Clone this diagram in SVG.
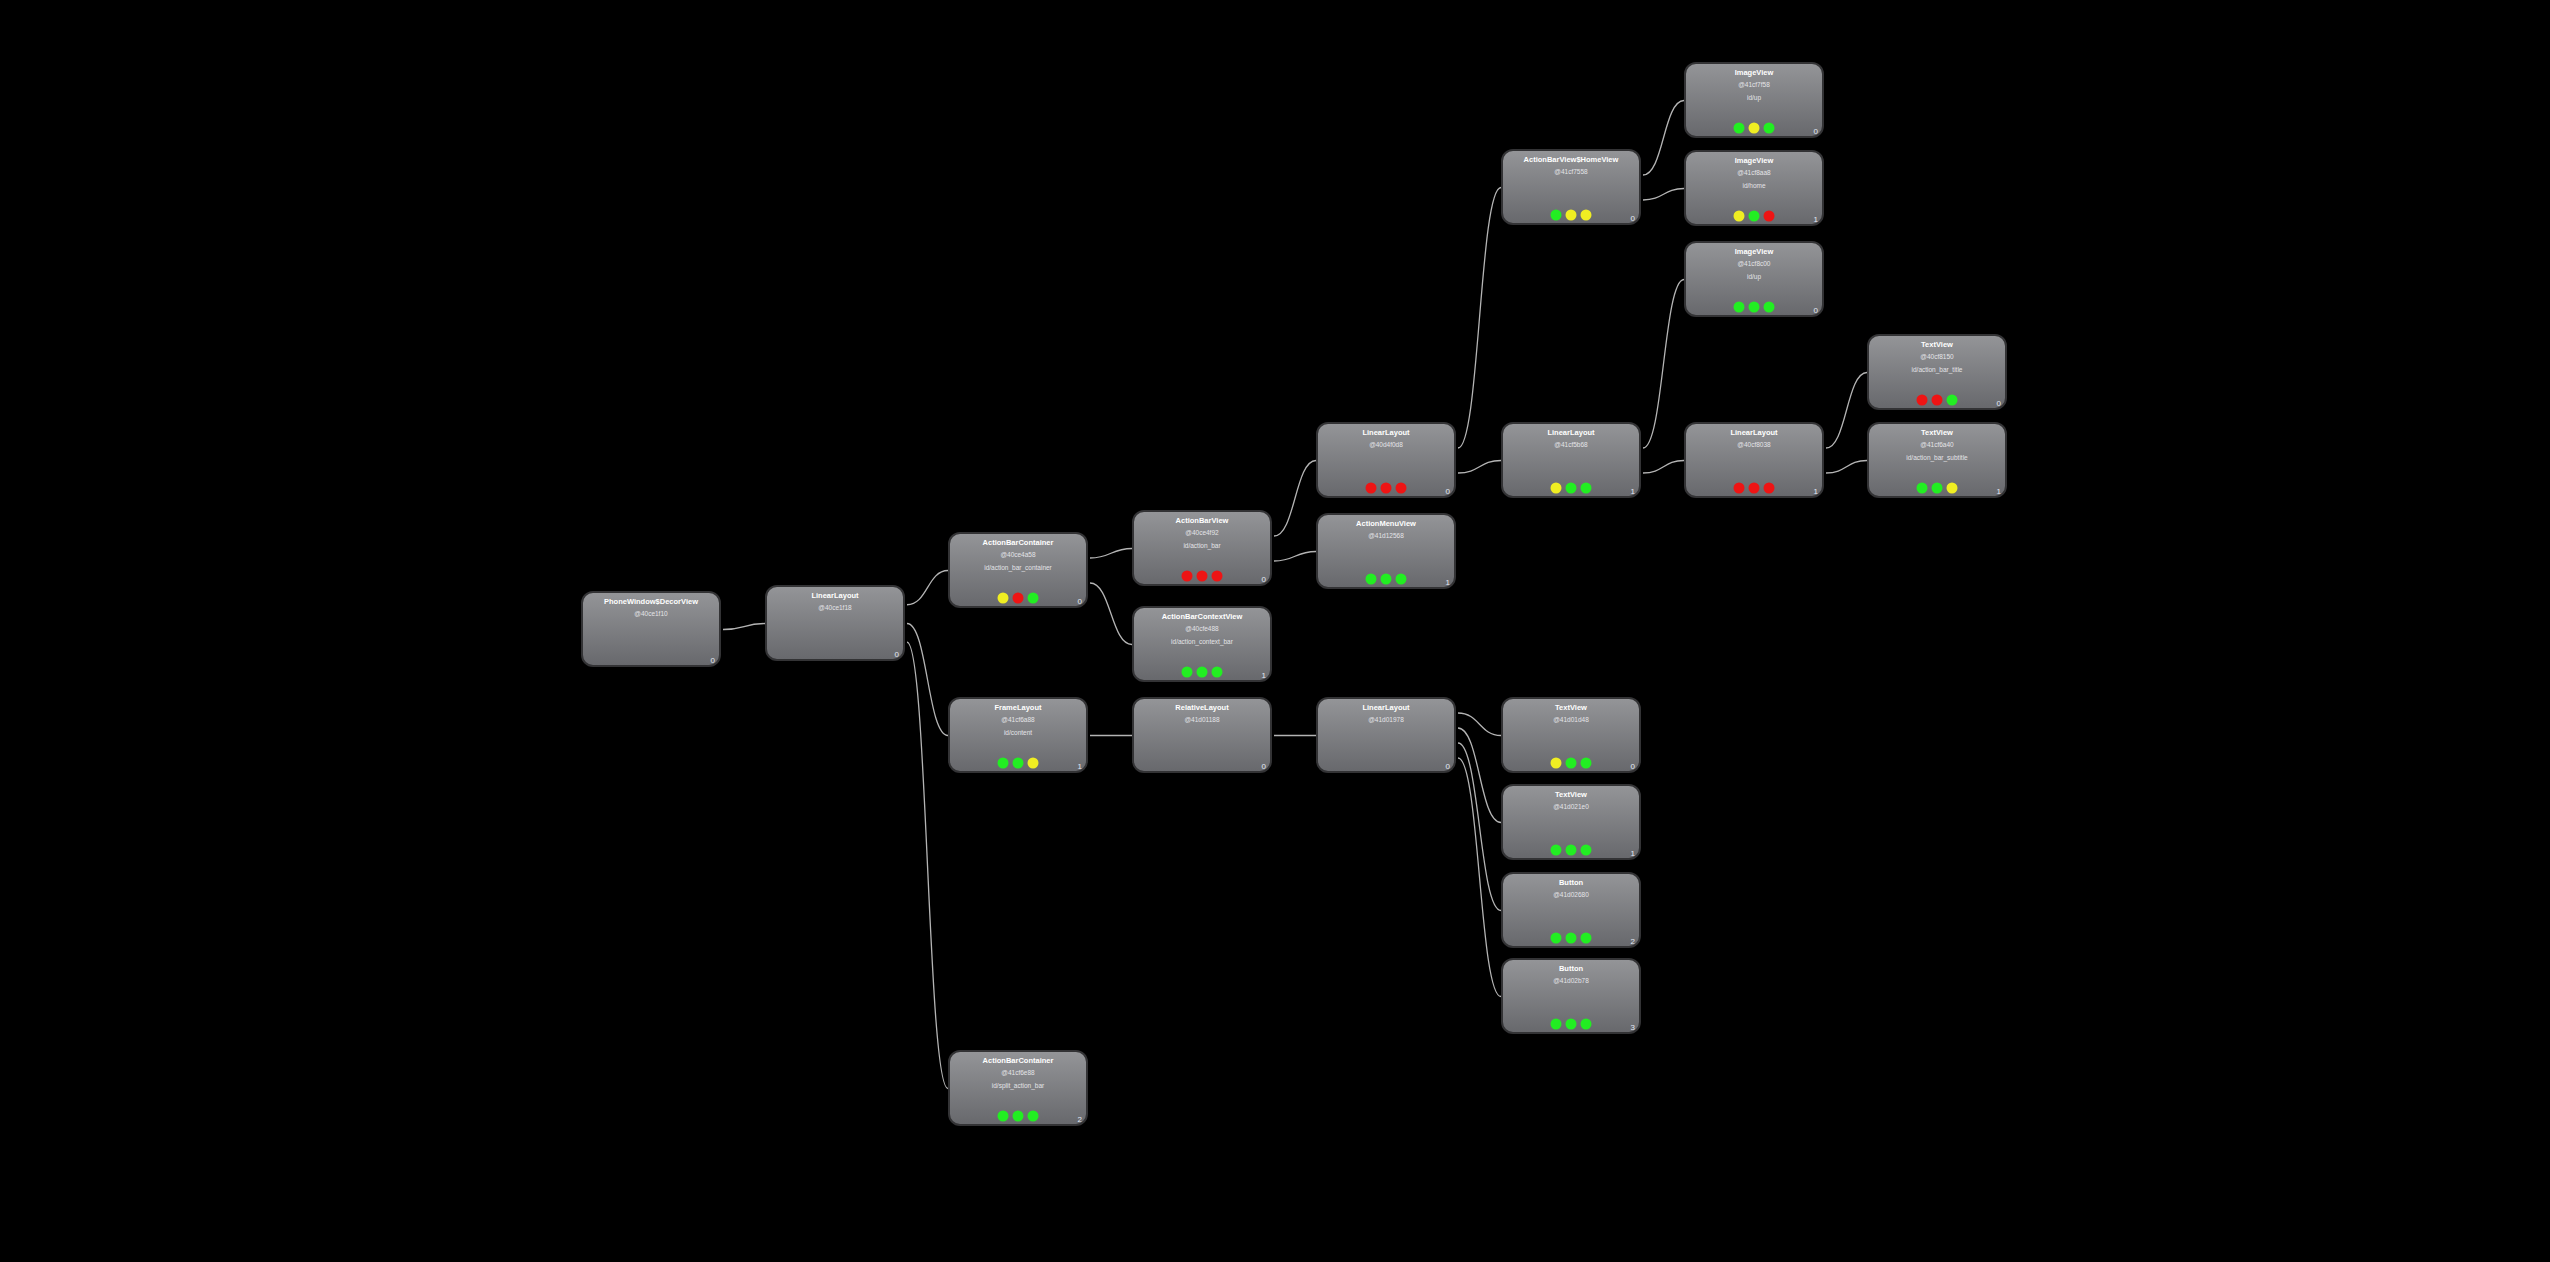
<svg xmlns="http://www.w3.org/2000/svg" width="2550" height="1262" viewBox="0 0 2550 1262">
<style>
.box{fill:url(#g);stroke:#333335;stroke-width:2}
.t{font-family:"Liberation Sans",Arial,sans-serif;font-size:7.5px;font-weight:bold;fill:#ffffff;text-anchor:middle}
.s{font-family:"Liberation Sans",Arial,sans-serif;font-size:6.5px;fill:#e4e4e8;text-anchor:middle}
.i{font-family:"Liberation Sans",Arial,sans-serif;font-size:8px;fill:#e2e8f4;text-anchor:end}
.G{fill:#22ee22}.R{fill:#ee1414}.Y{fill:#f0ee22}
.e{fill:none;stroke:#b4b4b4;stroke-width:1.3}
</style>
<defs>
<linearGradient id="g" x1="0" y1="0" x2="0" y2="1">
<stop offset="0" stop-color="#949598"/>
<stop offset="1" stop-color="#67686c"/>
</linearGradient>
</defs>
<rect width="2550" height="1262" fill="#000"/>
<g id="connectors">
<path class="e" d="M723,629.5 C744,629.5 744,623.5 765,623.5"/>
<path class="e" d="M907,604.75 C927.5,604.75 927.5,570.5 948,570.5"/>
<path class="e" d="M907,623.5 C927.5,623.5 927.5,735.5 948,735.5"/>
<path class="e" d="M907,642.25 C927.5,642.25 927.5,1088.5 948,1088.5"/>
<path class="e" d="M1090,558 C1111,558 1111,548.5 1132,548.5"/>
<path class="e" d="M1090,583 C1111,583 1111,644.5 1132,644.5"/>
<path class="e" d="M1090,735.5 L1132,735.5"/>
<path class="e" d="M1274,536 C1295,536 1295,460.5 1316,460.5"/>
<path class="e" d="M1274,561 C1295,561 1295,551.5 1316,551.5"/>
<path class="e" d="M1274,735.5 L1316,735.5"/>
<path class="e" d="M1458,448 C1479.5,448 1479.5,187.5 1501,187.5"/>
<path class="e" d="M1458,473 C1479.5,473 1479.5,460.5 1501,460.5"/>
<path class="e" d="M1458,713 C1479.5,713 1479.5,735.5 1501,735.5"/>
<path class="e" d="M1458,728 C1479.5,728 1479.5,822.5 1501,822.5"/>
<path class="e" d="M1458,743 C1479.5,743 1479.5,910.5 1501,910.5"/>
<path class="e" d="M1458,758 C1479.5,758 1479.5,996.5 1501,996.5"/>
<path class="e" d="M1643,175 C1663.5,175 1663.5,100.5 1684,100.5"/>
<path class="e" d="M1643,200 C1663.5,200 1663.5,188.5 1684,188.5"/>
<path class="e" d="M1643,448 C1663.5,448 1663.5,279.5 1684,279.5"/>
<path class="e" d="M1643,473 C1663.5,473 1663.5,460.5 1684,460.5"/>
<path class="e" d="M1826,448 C1846.5,448 1846.5,372.5 1867,372.5"/>
<path class="e" d="M1826,473 C1846.5,473 1846.5,460.5 1867,460.5"/>
</g>
<g id="n0" transform="translate(582,592)"><rect class="box" width="138" height="74" rx="11"/><text class="t" x="69" y="12">PhoneWindow$DecorView</text><text class="s" x="69" y="24">@40ce1f10</text><text class="i" x="133" y="71">0</text></g>
<g id="n1" transform="translate(766,586)"><rect class="box" width="138" height="74" rx="11"/><text class="t" x="69" y="12">LinearLayout</text><text class="s" x="69" y="24">@40ce1f18</text><text class="i" x="133" y="71">0</text></g>
<g id="n2" transform="translate(949,533)"><rect class="box" width="138" height="74" rx="11"/><text class="t" x="69" y="12">ActionBarContainer</text><text class="s" x="69" y="24">@40ce4a58</text><text class="s" x="69" y="37">id/action_bar_container</text><circle class="Y" cx="54" cy="65" r="5.5"/><circle class="R" cx="69" cy="65" r="5.5"/><circle class="G" cx="84" cy="65" r="5.5"/><text class="i" x="133" y="71">0</text></g>
<g id="n3" transform="translate(949,698)"><rect class="box" width="138" height="74" rx="11"/><text class="t" x="69" y="12">FrameLayout</text><text class="s" x="69" y="24">@41cf6a88</text><text class="s" x="69" y="37">id/content</text><circle class="G" cx="54" cy="65" r="5.5"/><circle class="G" cx="69" cy="65" r="5.5"/><circle class="Y" cx="84" cy="65" r="5.5"/><text class="i" x="133" y="71">1</text></g>
<g id="n4" transform="translate(949,1051)"><rect class="box" width="138" height="74" rx="11"/><text class="t" x="69" y="12">ActionBarContainer</text><text class="s" x="69" y="24">@41cf6e88</text><text class="s" x="69" y="37">id/split_action_bar</text><circle class="G" cx="54" cy="65" r="5.5"/><circle class="G" cx="69" cy="65" r="5.5"/><circle class="G" cx="84" cy="65" r="5.5"/><text class="i" x="133" y="71">2</text></g>
<g id="n5" transform="translate(1133,511)"><rect class="box" width="138" height="74" rx="11"/><text class="t" x="69" y="12">ActionBarView</text><text class="s" x="69" y="24">@40ce4f92</text><text class="s" x="69" y="37">id/action_bar</text><circle class="R" cx="54" cy="65" r="5.5"/><circle class="R" cx="69" cy="65" r="5.5"/><circle class="R" cx="84" cy="65" r="5.5"/><text class="i" x="133" y="71">0</text></g>
<g id="n6" transform="translate(1133,607)"><rect class="box" width="138" height="74" rx="11"/><text class="t" x="69" y="12">ActionBarContextView</text><text class="s" x="69" y="24">@40cfe488</text><text class="s" x="69" y="37">id/action_context_bar</text><circle class="G" cx="54" cy="65" r="5.5"/><circle class="G" cx="69" cy="65" r="5.5"/><circle class="G" cx="84" cy="65" r="5.5"/><text class="i" x="133" y="71">1</text></g>
<g id="n7" transform="translate(1133,698)"><rect class="box" width="138" height="74" rx="11"/><text class="t" x="69" y="12">RelativeLayout</text><text class="s" x="69" y="24">@41d01188</text><text class="i" x="133" y="71">0</text></g>
<g id="n8" transform="translate(1317,423)"><rect class="box" width="138" height="74" rx="11"/><text class="t" x="69" y="12">LinearLayout</text><text class="s" x="69" y="24">@40d4f0d8</text><circle class="R" cx="54" cy="65" r="5.5"/><circle class="R" cx="69" cy="65" r="5.5"/><circle class="R" cx="84" cy="65" r="5.5"/><text class="i" x="133" y="71">0</text></g>
<g id="n9" transform="translate(1317,514)"><rect class="box" width="138" height="74" rx="11"/><text class="t" x="69" y="12">ActionMenuView</text><text class="s" x="69" y="24">@41d12568</text><circle class="G" cx="54" cy="65" r="5.5"/><circle class="G" cx="69" cy="65" r="5.5"/><circle class="G" cx="84" cy="65" r="5.5"/><text class="i" x="133" y="71">1</text></g>
<g id="n10" transform="translate(1317,698)"><rect class="box" width="138" height="74" rx="11"/><text class="t" x="69" y="12">LinearLayout</text><text class="s" x="69" y="24">@41d01978</text><text class="i" x="133" y="71">0</text></g>
<g id="n11" transform="translate(1502,150)"><rect class="box" width="138" height="74" rx="11"/><text class="t" x="69" y="12">ActionBarView$HomeView</text><text class="s" x="69" y="24">@41cf7558</text><circle class="G" cx="54" cy="65" r="5.5"/><circle class="Y" cx="69" cy="65" r="5.5"/><circle class="Y" cx="84" cy="65" r="5.5"/><text class="i" x="133" y="71">0</text></g>
<g id="n12" transform="translate(1502,423)"><rect class="box" width="138" height="74" rx="11"/><text class="t" x="69" y="12">LinearLayout</text><text class="s" x="69" y="24">@41cf5b68</text><circle class="Y" cx="54" cy="65" r="5.5"/><circle class="G" cx="69" cy="65" r="5.5"/><circle class="G" cx="84" cy="65" r="5.5"/><text class="i" x="133" y="71">1</text></g>
<g id="n13" transform="translate(1502,698)"><rect class="box" width="138" height="74" rx="11"/><text class="t" x="69" y="12">TextView</text><text class="s" x="69" y="24">@41d01d48</text><circle class="Y" cx="54" cy="65" r="5.5"/><circle class="G" cx="69" cy="65" r="5.5"/><circle class="G" cx="84" cy="65" r="5.5"/><text class="i" x="133" y="71">0</text></g>
<g id="n14" transform="translate(1502,785)"><rect class="box" width="138" height="74" rx="11"/><text class="t" x="69" y="12">TextView</text><text class="s" x="69" y="24">@41d021e0</text><circle class="G" cx="54" cy="65" r="5.5"/><circle class="G" cx="69" cy="65" r="5.5"/><circle class="G" cx="84" cy="65" r="5.5"/><text class="i" x="133" y="71">1</text></g>
<g id="n15" transform="translate(1502,873)"><rect class="box" width="138" height="74" rx="11"/><text class="t" x="69" y="12">Button</text><text class="s" x="69" y="24">@41d02680</text><circle class="G" cx="54" cy="65" r="5.5"/><circle class="G" cx="69" cy="65" r="5.5"/><circle class="G" cx="84" cy="65" r="5.5"/><text class="i" x="133" y="71">2</text></g>
<g id="n16" transform="translate(1502,959)"><rect class="box" width="138" height="74" rx="11"/><text class="t" x="69" y="12">Button</text><text class="s" x="69" y="24">@41d02b78</text><circle class="G" cx="54" cy="65" r="5.5"/><circle class="G" cx="69" cy="65" r="5.5"/><circle class="G" cx="84" cy="65" r="5.5"/><text class="i" x="133" y="71">3</text></g>
<g id="n17" transform="translate(1685,63)"><rect class="box" width="138" height="74" rx="11"/><text class="t" x="69" y="12">ImageView</text><text class="s" x="69" y="24">@41cf7f58</text><text class="s" x="69" y="37">id/up</text><circle class="G" cx="54" cy="65" r="5.5"/><circle class="Y" cx="69" cy="65" r="5.5"/><circle class="G" cx="84" cy="65" r="5.5"/><text class="i" x="133" y="71">0</text></g>
<g id="n18" transform="translate(1685,151)"><rect class="box" width="138" height="74" rx="11"/><text class="t" x="69" y="12">ImageView</text><text class="s" x="69" y="24">@41cf8aa8</text><text class="s" x="69" y="37">id/home</text><circle class="Y" cx="54" cy="65" r="5.5"/><circle class="G" cx="69" cy="65" r="5.5"/><circle class="R" cx="84" cy="65" r="5.5"/><text class="i" x="133" y="71">1</text></g>
<g id="n19" transform="translate(1685,242)"><rect class="box" width="138" height="74" rx="11"/><text class="t" x="69" y="12">ImageView</text><text class="s" x="69" y="24">@41cf8c00</text><text class="s" x="69" y="37">id/up</text><circle class="G" cx="54" cy="65" r="5.5"/><circle class="G" cx="69" cy="65" r="5.5"/><circle class="G" cx="84" cy="65" r="5.5"/><text class="i" x="133" y="71">0</text></g>
<g id="n20" transform="translate(1685,423)"><rect class="box" width="138" height="74" rx="11"/><text class="t" x="69" y="12">LinearLayout</text><text class="s" x="69" y="24">@40cf8038</text><circle class="R" cx="54" cy="65" r="5.5"/><circle class="R" cx="69" cy="65" r="5.5"/><circle class="R" cx="84" cy="65" r="5.5"/><text class="i" x="133" y="71">1</text></g>
<g id="n21" transform="translate(1868,335)"><rect class="box" width="138" height="74" rx="11"/><text class="t" x="69" y="12">TextView</text><text class="s" x="69" y="24">@40cf8150</text><text class="s" x="69" y="37">id/action_bar_title</text><circle class="R" cx="54" cy="65" r="5.5"/><circle class="R" cx="69" cy="65" r="5.5"/><circle class="G" cx="84" cy="65" r="5.5"/><text class="i" x="133" y="71">0</text></g>
<g id="n22" transform="translate(1868,423)"><rect class="box" width="138" height="74" rx="11"/><text class="t" x="69" y="12">TextView</text><text class="s" x="69" y="24">@41cf6a40</text><text class="s" x="69" y="37">id/action_bar_subtitle</text><circle class="G" cx="54" cy="65" r="5.5"/><circle class="G" cx="69" cy="65" r="5.5"/><circle class="Y" cx="84" cy="65" r="5.5"/><text class="i" x="133" y="71">1</text></g>
</svg>
